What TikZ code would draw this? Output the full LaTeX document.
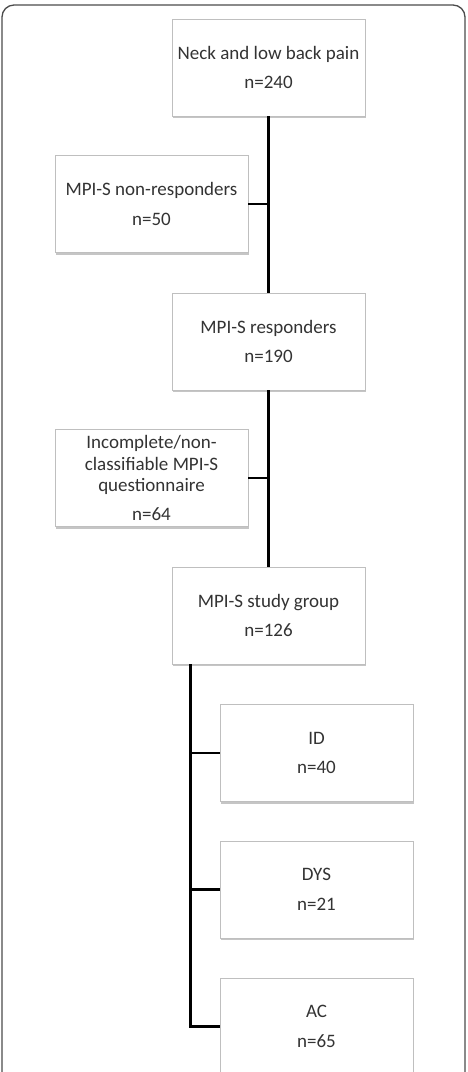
\documentclass[tikz,border=0pt]{standalone}
\usepackage{fontspec}
\setmainfont{Carlito}
\usetikzlibrary{shadows}
\begin{document}
\begin{tikzpicture}[x=1pt, y=-1pt, line width=2.9pt,
    box/.style={draw=black!25, line width=0.9pt, fill=white, minimum width=193pt, minimum height=97pt,
      inner sep=2pt, align=center, text=black!80, font=\fontsize{19}{21.5}\selectfont,
      drop shadow={shadow xshift=1.2pt, shadow yshift=-2pt, fill=black!45}}]
            \useasboundingbox (0,0) rectangle (467,1072);
            \clip (0,0) rectangle (467,1072);
            \draw [black!70, line width=1.3pt, rounded corners=12pt] (2,5) rectangle (465,1100);
            \node [box] (neck) at (268.5,67.5) {Neck and low back pain\\[8pt]n=240};
            \node [box] (nonresp) at (151.5,204) {MPI-S non-responders\\[8pt]n=50};
            \node [box] (resp) at (268.5,341.5) {MPI-S responders\\[8pt]n=190};
            \node [box] (incomp) at (151.5,478) {Incomplete/non-\\classifiable MPI-S\\questionnaire\\[7pt]n=64};
            \node [box] (study) at (268.5,615.5) {MPI-S study group\\[8pt]n=126};
            \node [box] (id) at (316.5,753) {ID\\[8pt]n=40};
            \node [box] (dys) at (316.5,889.5) {DYS\\[8pt]n=21};
            \node [box] (ac) at (316.5,1026.5) {AC\\[8pt]n=65};
            \coordinate (trunk) at ([xshift=19pt]study.south west);
            \path (neck) edge (resp);
            \path (resp) edge (study);
            \path (nonresp.east) edge (nonresp.east -| neck.south);
            \path (incomp.east) edge (incomp.east -| resp.south);
            \draw (trunk) |- (ac.west);
            \path (trunk |- id.west) edge (id.west);
            \path (trunk |- dys.west) edge (dys.west);
        \end{tikzpicture}
\end{document}
